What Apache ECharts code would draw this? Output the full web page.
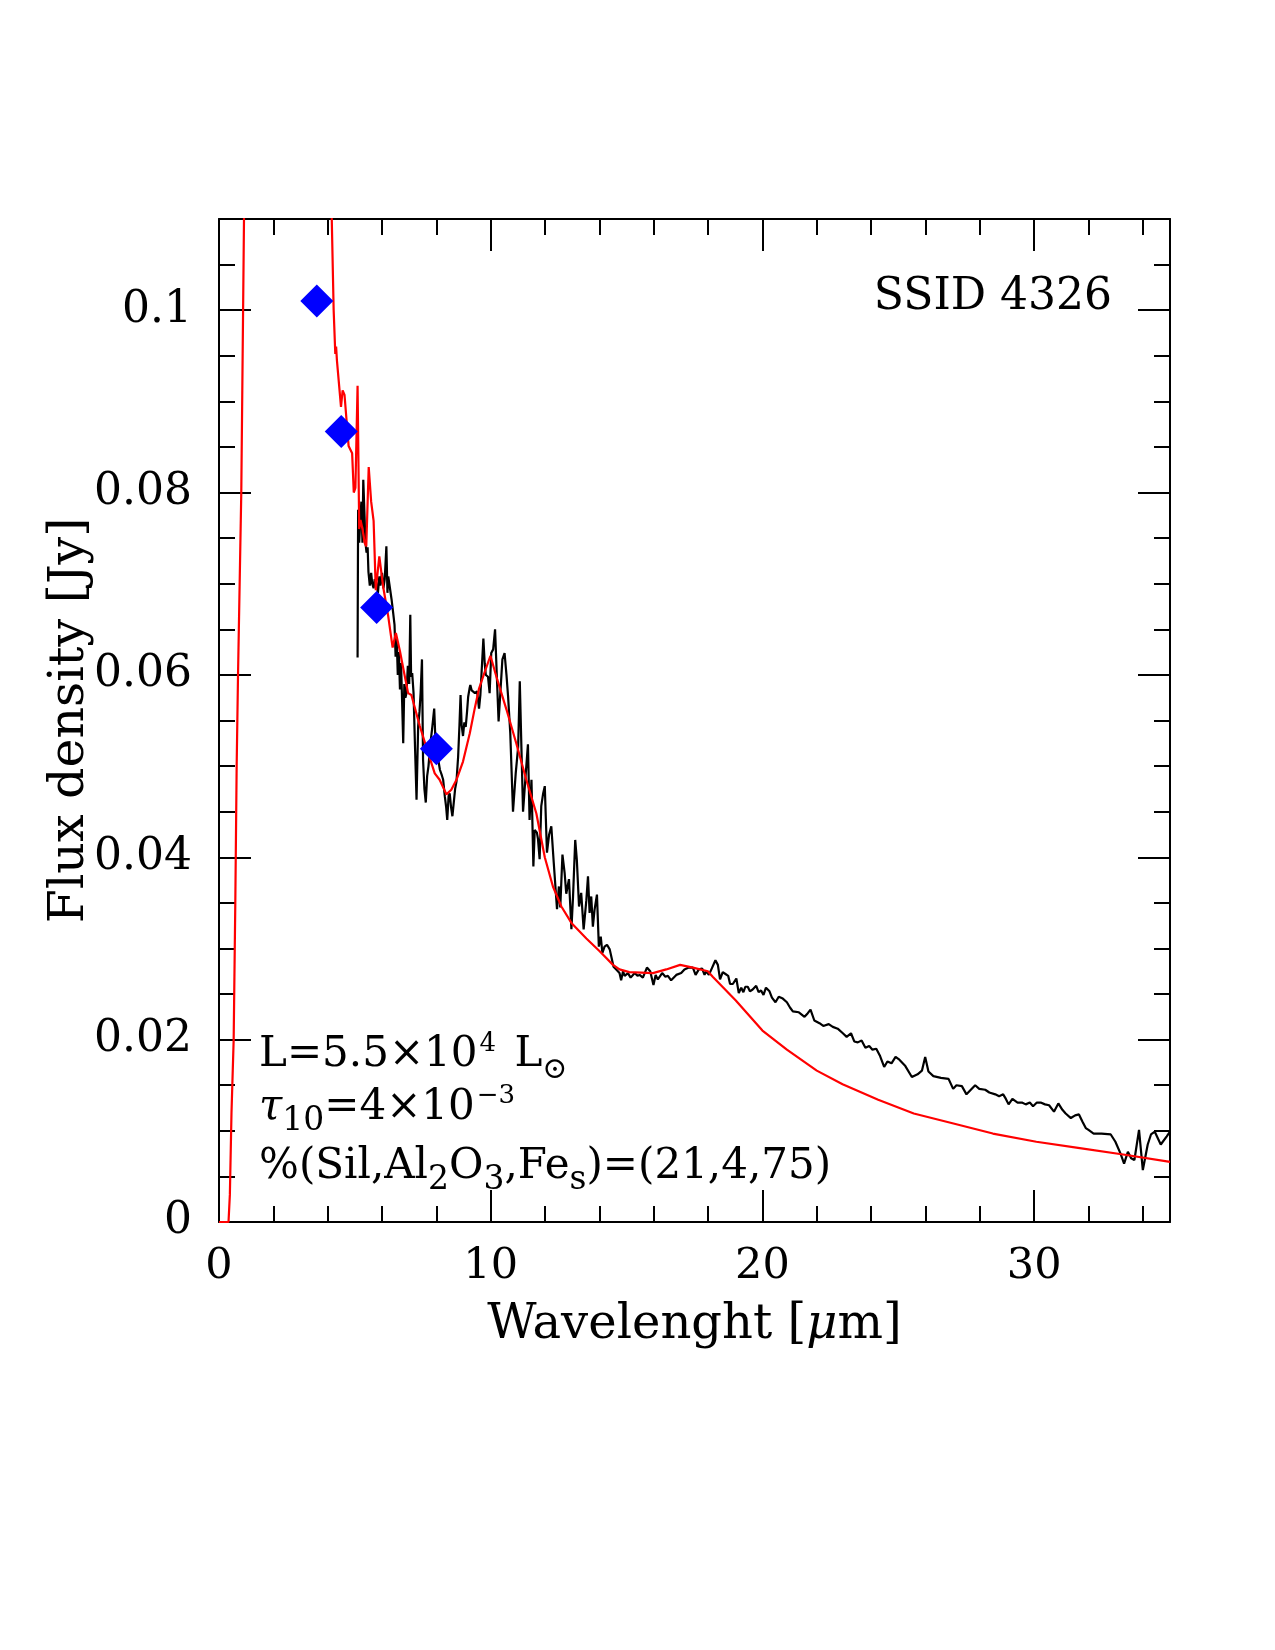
<!DOCTYPE html>
<html><head><meta charset="utf-8">
<script src="https://cdn.jsdelivr.net/npm/echarts@6/dist/echarts.min.js"></script>
<style>html,body{margin:0;padding:0;background:#fff}#c{width:1275px;height:1650px}</style>
</head><body><div id="c"></div>
<script>
// ---- data ----
const modelWave = [0,0.35,0.40,0.46,0.54,0.60,0.65,0.70,0.82,0.92,1.0,1.5,2.0,2.5,3.0,3.5,3.9,4.15,4.22,4.28,4.31,4.34,4.49,4.55,4.62,4.77,4.90,4.96,5.02,5.10,5.16,5.21,5.28,5.36,5.42,5.51,5.60,5.69,5.77,5.90,6.04,6.23,6.39,6.51,6.66,6.77,6.96,7.08,7.39,7.69,7.94,8.12,8.37,8.55,8.74,8.98,9.23,9.41,9.57,9.72,9.99,10.21,10.58,10.94,11.31,11.68,11.99,12.29,12.60,12.97,13.52,14.01,14.50,14.74,15.10,15.97,16.46,16.97,17.44,17.99,18.17,19.02,20.0,20.9,22.0,22.95,24.26,25.57,27.03,28.48,30.08,31.68,33.28,35.0];
const modelFlux = [0,0,0.003,0.012,0.020,0.035,0.050,0.060,0.080,0.110,0.135,0.21,0.24,0.24,0.21,0.17,0.13,0.11,0.1000,0.0952,0.0960,0.0945,0.0894,0.0912,0.0907,0.0851,0.0843,0.0800,0.0805,0.0917,0.0760,0.0770,0.0760,0.0745,0.0741,0.0828,0.0790,0.0769,0.0693,0.0730,0.0697,0.0664,0.0630,0.0646,0.0626,0.0609,0.0580,0.0578,0.0544,0.0515,0.0492,0.0485,0.0469,0.0474,0.0485,0.0505,0.0536,0.0563,0.0585,0.0598,0.0621,0.0598,0.0562,0.0525,0.0485,0.0448,0.0400,0.0368,0.0346,0.0328,0.0311,0.0297,0.0282,0.0277,0.0274,0.0273,0.0277,0.0282,0.0279,0.0275,0.0269,0.0243,0.0210,0.0189,0.0166,0.0151,0.0134,0.0119,0.0108,0.0097,0.0088,0.0081,0.0074,0.0066];

const specWave = [5.10,5.12,5.16,5.20,5.24,5.28,5.31,5.35,5.39,5.43,5.47,5.50,5.55,5.60,5.64,5.69,5.73,5.79,5.85,5.90,5.94,6.00,6.05,6.10,6.16,6.20,6.23,6.29,6.35,6.41,6.46,6.50,6.54,6.58,6.62,6.66,6.70,6.74,6.78,6.82,6.86,6.90,6.95,7.00,7.04,7.07,7.11,7.16,7.21,7.27,7.33,7.38,7.42,7.47,7.51,7.56,7.61,7.66,7.71,7.78,7.84,7.92,7.97,8.02,8.08,8.13,8.20,8.25,8.31,8.36,8.40,8.45,8.49,8.54,8.59,8.64,8.69,8.74,8.80,8.85,8.89,8.93,8.98,9.03,9.08,9.13,9.17,9.22,9.25,9.30,9.35,9.42,9.50,9.57,9.62,9.66,9.73,9.78,9.82,9.90,9.96,10.02,10.09,10.16,10.23,10.29,10.35,10.43,10.51,10.58,10.64,10.72,10.82,10.92,11.01,11.07,11.13,11.19,11.29,11.37,11.43,11.50,11.57,11.62,11.70,11.74,11.80,11.86,11.93,11.99,12.07,12.15,12.23,12.32,12.44,12.51,12.56,12.64,12.72,12.78,12.88,12.97,13.03,13.11,13.17,13.25,13.33,13.42,13.52,13.58,13.64,13.70,13.76,13.82,13.91,13.98,14.05,14.11,14.19,14.28,14.38,14.44,14.52,14.62,14.74,14.80,14.87,14.93,15.05,15.15,15.30,15.40,15.48,15.60,15.75,15.87,15.99,16.07,16.15,16.31,16.43,16.52,16.64,16.83,17.01,17.13,17.29,17.44,17.54,17.66,17.78,17.87,17.93,18.03,18.15,18.27,18.36,18.44,18.54,18.64,18.74,18.81,18.91,19.04,19.13,19.22,19.30,19.37,19.46,19.54,19.64,19.77,19.86,19.95,20.04,20.13,20.26,20.35,20.48,20.60,20.75,20.90,21.02,21.12,21.34,21.55,21.67,21.77,21.91,22.10,22.24,22.44,22.59,22.77,22.96,23.10,23.26,23.38,23.51,23.65,23.79,23.93,24.05,24.19,24.33,24.48,24.60,24.75,24.90,25.04,25.26,25.50,25.71,25.87,25.99,26.11,26.29,26.57,26.85,27.02,27.14,27.34,27.51,27.67,27.83,27.98,28.20,28.35,28.57,28.71,28.86,28.96,29.06,29.20,29.39,29.55,29.69,29.84,29.96,30.10,30.24,30.40,30.55,30.73,30.89,31.04,31.16,31.35,31.51,31.65,31.78,31.90,32.00,32.19,32.48,32.82,32.99,33.18,33.31,33.45,33.57,33.69,33.86,34.00,34.18,34.30,34.44,34.66,34.88,35.00];
const specFlux = [0.0619,0.0781,0.0745,0.0770,0.0790,0.0745,0.0814,0.0780,0.0745,0.0734,0.0740,0.0713,0.0698,0.0712,0.0700,0.0695,0.0705,0.0701,0.0690,0.0708,0.0698,0.0712,0.0695,0.0705,0.0741,0.0690,0.0708,0.0708,0.0683,0.0668,0.0655,0.0620,0.0640,0.0600,0.0625,0.0584,0.0613,0.0570,0.0525,0.0590,0.0575,0.0580,0.0610,0.0590,0.0666,0.0598,0.0602,0.0580,0.0525,0.0463,0.0544,0.0560,0.0580,0.0617,0.0507,0.0475,0.0460,0.0489,0.0500,0.0525,0.0540,0.0563,0.0525,0.0515,0.0505,0.0496,0.0490,0.0485,0.0467,0.0455,0.0441,0.0467,0.0470,0.0455,0.0445,0.0460,0.0475,0.0483,0.0510,0.0545,0.0578,0.0545,0.0533,0.0548,0.0543,0.0560,0.0576,0.0585,0.0589,0.0583,0.0582,0.0580,0.0582,0.0563,0.0578,0.0580,0.0640,0.0612,0.0600,0.0598,0.0580,0.0624,0.0628,0.0650,0.0595,0.0549,0.0547,0.0617,0.0624,0.0600,0.0576,0.0536,0.0450,0.0492,0.0521,0.0593,0.0520,0.0450,0.0492,0.0524,0.0441,0.0485,0.0390,0.0430,0.0427,0.0420,0.0398,0.0456,0.0470,0.0478,0.0405,0.0425,0.0434,0.0394,0.0343,0.0368,0.0345,0.0403,0.0383,0.0360,0.0376,0.0321,0.0357,0.0419,0.0397,0.0346,0.0361,0.0321,0.0353,0.0379,0.0339,0.0357,0.0324,0.0342,0.0359,0.0302,0.0313,0.0295,0.0302,0.0304,0.0299,0.0291,0.0280,0.0277,0.0273,0.0265,0.0275,0.0270,0.0273,0.0268,0.0273,0.0270,0.0271,0.0268,0.0279,0.0275,0.0260,0.0271,0.0266,0.0273,0.0269,0.0270,0.0265,0.0271,0.0273,0.0277,0.0279,0.0279,0.0271,0.0277,0.0278,0.0271,0.0275,0.0271,0.0279,0.0287,0.0282,0.0266,0.0274,0.0272,0.0270,0.0261,0.0261,0.0267,0.0251,0.0257,0.0252,0.0258,0.0258,0.0253,0.0255,0.0259,0.0252,0.0254,0.0249,0.0257,0.0253,0.0246,0.0241,0.0247,0.0245,0.0241,0.0235,0.0231,0.0230,0.0225,0.0229,0.0233,0.0221,0.0218,0.0215,0.0217,0.0214,0.0212,0.0207,0.0203,0.0207,0.0198,0.0197,0.0199,0.0191,0.0193,0.0189,0.0190,0.0182,0.0170,0.0176,0.0174,0.0181,0.0178,0.0171,0.0159,0.0162,0.0166,0.0181,0.0165,0.0160,0.0158,0.0157,0.0146,0.0150,0.0149,0.0140,0.0145,0.0150,0.0146,0.0145,0.0142,0.0140,0.0138,0.0140,0.0135,0.0129,0.0135,0.0131,0.0131,0.0129,0.0131,0.0127,0.0131,0.0131,0.0129,0.0128,0.0121,0.0130,0.0123,0.0119,0.0114,0.0117,0.0118,0.0110,0.0103,0.0101,0.0097,0.0097,0.0096,0.0088,0.0075,0.0064,0.0077,0.0070,0.0068,0.0101,0.0057,0.0085,0.0096,0.0099,0.0085,0.0094,0.0099];

const photWave = [3.6, 4.5, 5.8, 8.0];
const photFlux = [0.1010, 0.0867, 0.0674, 0.0519];

const xMajorTicks = [0, 10, 20, 30];
const yMajorTicks = [0, 0.02, 0.04, 0.06, 0.08, 0.1];
const xLabels = ['0', '10', '20', '30'];
const yLabels = ['0', '0.02', '0.04', '0.06', '0.08', '0.1'];

const zip = (a, b) => a.map((v, i) => [v, b[i]]);

// ---- chart ----
const FONT = 'DejaVu Serif';
const chart = echarts.init(document.getElementById('c'), null, {renderer: 'canvas'});

function labelFor(ticks, labels) {
  return v => {
    for (let i = 0; i < ticks.length; i++) if (Math.abs(v - ticks[i]) < 1e-9) return labels[i];
    return '';
  };
}
const lineBlack = {color: '#000', width: 2};
function xAx(pos, major, showLabel) {
  return {
    type: 'value', position: pos, min: 0, max: 35, interval: major ? 10 : 2,
    axisLine: {show: major, onZero: false, lineStyle: lineBlack},
    axisTick: {show: true, inside: true, length: major ? 32 : 16, lineStyle: lineBlack},
    axisLabel: {show: showLabel, margin: 23, color: '#000', fontFamily: FONT, fontSize: 43,
      formatter: labelFor(xMajorTicks, xLabels)},
    splitLine: {show: false}
  };
}
function yAx(pos, major, showLabel) {
  return {
    type: 'value', position: pos, min: 0, max: 0.11, interval: major ? 0.02 : 0.005,
    axisLine: {show: major, onZero: false, lineStyle: lineBlack},
    axisTick: {show: true, inside: true, length: major ? 32 : 16, lineStyle: lineBlack},
    axisLabel: {show: showLabel, margin: 27, color: '#000', fontFamily: FONT, fontSize: 44,
      formatter: labelFor(yMajorTicks, yLabels)},
    splitLine: {show: false}
  };
}

const xMain = xAx('bottom', true, true);
Object.assign(xMain, {
  name: 'Wavelenght [{i|μ}m]', nameLocation: 'middle', nameGap: 80,
  nameTextStyle: {color: '#000', fontFamily: FONT, fontSize: 48,
    rich: {i: {fontFamily: FONT, fontSize: 48, fontStyle: 'italic', color: '#000'}}}
});
const yMain = yAx('left', true, true);
Object.assign(yMain, {
  name: 'Flux density [Jy]', nameLocation: 'middle', nameGap: 124, nameRotate: 90,
  nameMoveOverlap: false,
  nameTextStyle: {color: '#000', fontFamily: FONT, fontSize: 49}
});

const n = {fontFamily: FONT, fontSize: 42, color: '#000', lineHeight: 60, verticalAlign: 'middle'};
const it = Object.assign({}, n, {fontStyle: 'italic'});
const sup = {fontFamily: FONT, fontSize: 26, color: '#000', lineHeight: 26, verticalAlign: 'top', padding: [5, 0, 0, 2]};
const supL = Object.assign({}, sup, {padding: [6, 5, 0, 2]});
const sub = {fontFamily: FONT, fontSize: 33, color: '#000', lineHeight: 27, verticalAlign: 'bottom'};
const sun = {fontFamily: FONT, fontSize: 30, color: '#000', lineHeight: 30, verticalAlign: 'bottom'};
const richStyle = {n, it, sup, supL, sub, sun};

function richText(x, y, text) {
  return {type: 'text', x: x, y: y, z: 100,
    style: {text: text, rich: richStyle, textAlign: 'left', textVerticalAlign: 'middle',
      fontFamily: FONT, fontSize: 42, fill: '#000'}};
}

chart.setOption({
  animation: false,
  backgroundColor: '#fff',
  grid: {left: 219, right: 105, top: 219, bottom: 428, containLabel: false},
  xAxis: [xMain, xAx('bottom', false, false), xAx('top', true, false), xAx('top', false, false)],
  yAxis: [yMain, yAx('left', false, false), yAx('right', true, false), yAx('right', false, false)],
  series: [
    {type: 'line', name: 'spectrum', data: zip(specWave, specFlux), showSymbol: false, clip: true,
      lineStyle: {color: '#000', width: 2.2}, itemStyle: {color: '#000'}, z: 2},
    {type: 'line', name: 'model', data: zip(modelWave, modelFlux), showSymbol: false, clip: true,
      lineStyle: {color: '#ff0000', width: 2.2}, itemStyle: {color: '#ff0000'}, z: 3},
    {type: 'scatter', name: 'photometry', data: zip(photWave, photFlux), symbol: 'diamond',
      symbolSize: [33, 33], itemStyle: {color: '#0000ff', opacity: 1}, z: 4}
  ],
  graphic: [
    {type: 'text', x: 1112, y: 298, z: 100,
      style: {text: 'SSID 4326', textAlign: 'right', textVerticalAlign: 'middle',
        fontFamily: FONT, fontSize: 44, fill: '#000'}},
    richText(259, 1055, '{n|L=5.5×10}{supL|4}{n| L}{sun|⊙}'),
    richText(259, 1108, '{it|τ}{sub|10}{n|=4×10}{sup|−3}'),
    richText(259, 1167, '{n|%(Sil,Al}{sub|2}{n|O}{sub|3}{n|,Fe}{sub|s}{n|)=(21,4,75)}')
  ]
});
</script></body></html>
